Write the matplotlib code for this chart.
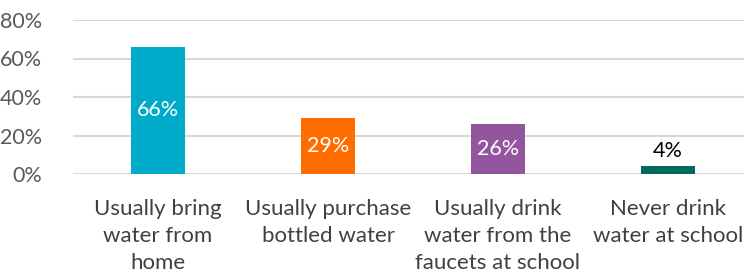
import matplotlib
matplotlib.use("Agg")
import matplotlib.pyplot as plt
from matplotlib.ticker import PercentFormatter

categories = ["Usually bring\nwater from\nhome", "Usually purchase\nbottled water",
              "Usually drink\nwater from the\nfaucets at school", "Never drink\nwater at school"]
values = [0.66, 0.29, 0.26, 0.04]
value_labels = ["66%", "29%", "26%", "4%"]
colors = ["#00ABC9", "#FF6D00", "#92559E", "#00695F"]
yticks = [0, 0.2, 0.4, 0.6, 0.8]

plt.rcParams['font.family'] = ['Lato', 'DejaVu Sans']

fig = plt.figure(figsize=(7.44, 2.74), dpi=100)
W, H = 744, 274
left, right_full = 73, 753
ax = fig.add_axes([left / W, (H - 174) / H, (W - left) / W, 154 / H])
x = list(range(len(categories)))
ax.bar(x, values, width=0.318, color=colors, zorder=3)
ax.set_xlim(-0.5, 3.5 - (right_full - W) / 170)
ax.set_ylim(0, 0.8)
ax.set_yticks(yticks)
ax.yaxis.set_major_formatter(PercentFormatter(1.0, decimals=0))
ax.grid(axis='y', color='#D9D9D9', linewidth=1.5, zorder=0)
for s in ax.spines.values():
    s.set_visible(False)
ax.tick_params(axis='y', length=0, pad=22, labelsize=15.5, labelcolor='#595959')
ax.tick_params(axis='x', length=0, pad=18, labelsize=16, labelcolor='#404040')
ax.set_xticks(x)
ax.set_xticklabels(categories, linespacing=1.45)

for i, (v, lab) in enumerate(zip(values, value_labels)):
    if v > 0.1:
        ax.text(i, v / 2, lab, ha='center', va='center', color='white', fontsize=15.5, zorder=4)
    else:
        ax.text(i, v + 0.08, lab, ha='center', va='center', color='black', fontsize=15.5, zorder=4)

fig.savefig("out.png", dpi=100)
